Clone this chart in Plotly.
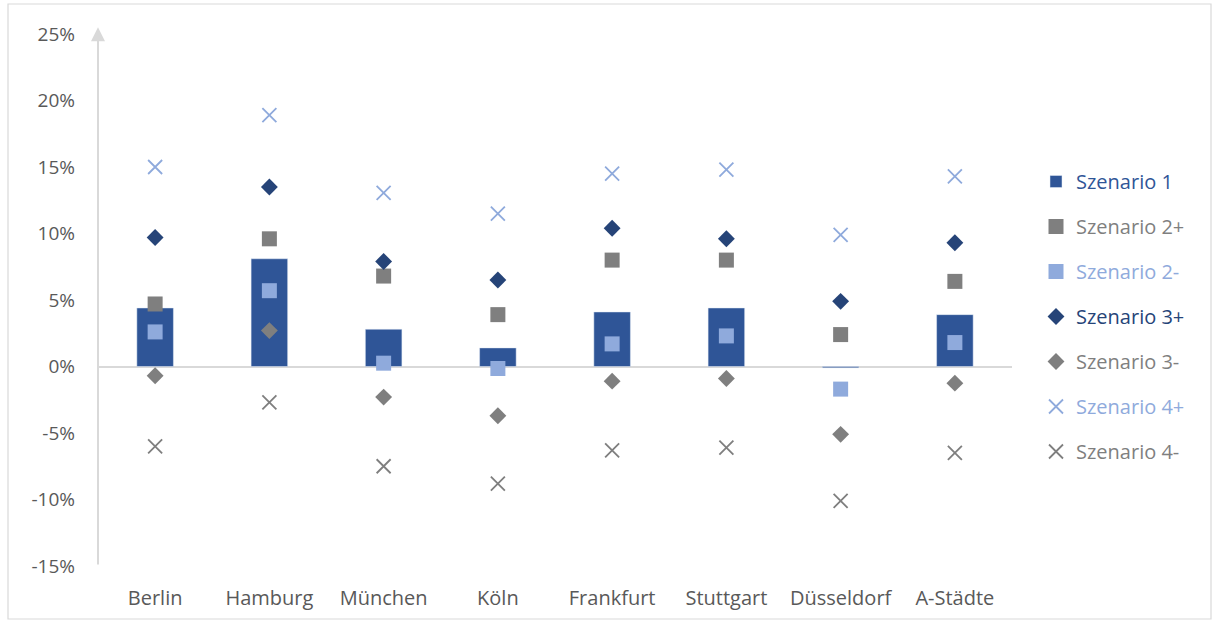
import plotly.graph_objects as go

# Cities and scenario results (change in %)
cities = ["Berlin", "Hamburg", "München", "Köln", "Frankfurt", "Stuttgart", "Düsseldorf", "A-Städte"]

szenario_1 = [4.4, 8.1, 2.8, 1.4, 4.1, 4.4, -0.1, 3.9]
szenario_2_plus = [4.7, 9.6, 6.8, 3.9, 8.0, 8.0, 2.4, 6.4]
szenario_2_minus = [2.6, 5.7, 0.25, -0.15, 1.7, 2.3, -1.7, 1.8]
szenario_3_plus = [9.7, 13.5, 7.9, 6.5, 10.4, 9.6, 4.9, 9.3]
szenario_3_minus = [-0.7, 2.7, -2.3, -3.7, -1.1, -0.9, -5.1, -1.25]
szenario_4_plus = [15.0, 18.9, 13.05, 11.5, 14.5, 14.8, 9.9, 14.3]
szenario_4_minus = [-6.0, -2.7, -7.5, -8.8, -6.3, -6.1, -10.1, -6.5]

y_ticks = [-15, -10, -5, 0, 5, 10, 15, 20, 25]

DARK_BLUE = "#2F5597"
NAVY = "#264478"
GREY = "#7F7F7F"
LIGHT_BLUE = "#8FAADC"
FONT = "Open Sans"


def label(text, color):
    return f'<span style="color:{color}">{text}</span>'


fig = go.Figure()

fig.add_trace(go.Bar(
    x=cities, y=szenario_1, name=label("Szenario 1", DARK_BLUE),
    marker=dict(color=DARK_BLUE), width=0.32, legendgroup="s1",
))

point_series = [
    ("Szenario 2+", szenario_2_plus, "square", GREY, "s2p"),
    ("Szenario 2-", szenario_2_minus, "square", LIGHT_BLUE, "s2m"),
    ("Szenario 3+", szenario_3_plus, "diamond", NAVY, "s3p"),
    ("Szenario 3-", szenario_3_minus, "diamond", GREY, "s3m"),
    ("Szenario 4+", szenario_4_plus, "x-thin", LIGHT_BLUE, "s4p"),
    ("Szenario 4-", szenario_4_minus, "x-thin", GREY, "s4m"),
]

for name, values, symbol, color, group in point_series:
    if symbol == "x-thin":
        marker = dict(symbol=symbol, size=14, line=dict(color=color, width=1.8), color=color)
    else:
        size = 15 if symbol == "square" else 13
        marker = dict(symbol=symbol, size=size, color=color, line=dict(width=0))
    fig.add_trace(go.Scatter(
        x=cities, y=values, mode="markers", name=label(name, color),
        marker=marker, legendgroup=group,
    ))

# Plot area spans x 98..1012 and y 34..566 in pixels
L, R, T, B = 98, 202, 34, 56
W, H = 1214, 622
pw, ph = W - L - R, H - T - B

fig.update_layout(
    width=W, height=H,
    margin=dict(l=L, r=R, t=T, b=B),
    paper_bgcolor="white", plot_bgcolor="white",
    barmode="overlay",
    font=dict(family=FONT, size=19, color="#595959"),
    showlegend=True,
    legend=dict(
        x=(1036 - L) / pw, y=(566 - 162) / ph, xanchor="left", yanchor="top",
        font=dict(family=FONT, size=20),
        tracegroupgap=16, bgcolor="rgba(0,0,0,0)",
    ),
    xaxis=dict(
        showgrid=False, showline=False, zeroline=False, ticks="",
        ticklabelstandoff=18, tickfont=dict(size=20, color="#595959"),
    ),
    yaxis=dict(
        range=[-15, 25], tickvals=y_ticks,
        ticktext=[f"{v}%" for v in y_ticks],
        showgrid=False, showline=False,
        zeroline=True, zerolinecolor="#D9D9D9", zerolinewidth=2,
        ticks="", ticklabelstandoff=22, tickfont=dict(size=19, color="#595959"),
    ),
    shapes=[
        # outer frame of the chart
        dict(type="rect", xref="paper", yref="paper",
             x0=(8 - L) / pw, x1=(1211 - L) / pw,
             y0=(566 - 619) / ph, y1=(566 - 4) / ph,
             line=dict(color="#D9D9D9", width=1.2), fillcolor="rgba(0,0,0,0)", layer="below"),
    ],
    annotations=[
        # value axis drawn as an upward arrow
        dict(x=0, y=25.5, xref="paper", yref="y",
             ax=0, ay=-15, axref="pixel", ayref="y",
             text="", showarrow=True, arrowhead=2, arrowsize=1.4,
             arrowwidth=2, arrowcolor="#D9D9D9", standoff=0, startstandoff=0),
    ],
)

fig.write_html("out.html")
